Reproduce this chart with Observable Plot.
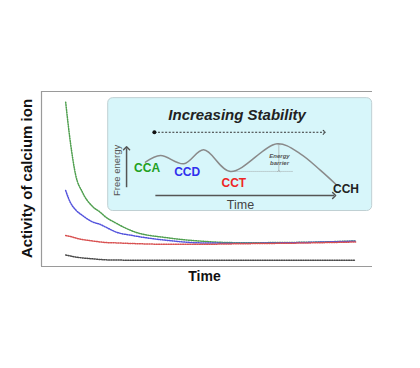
<!DOCTYPE html>
<html>
<head>
<meta charset="utf-8">
<script src="https://cdn.jsdelivr.net/npm/d3@7"></script>
<script src="https://cdn.jsdelivr.net/npm/@observablehq/plot@0.6"></script>
<style>
  html, body { margin: 0; padding: 0; background: #fff; }
  #chart svg { display: block; }
</style>
</head>
<body>
<div id="chart"></div>
<script>
// ---- main curves: activity of calcium ion vs time ----
const time  = [7.3, 8.8, 10.3, 12.4, 15.4, 17.8, 19.3, 22.4, 27.8, 38.1, 48.0, 60.1, 78.3, 94.9];
const cca   = [93.9, 70.0, 52.5, 42.3, 34.3, 30.9, 28.4, 24.9, 20.0, 16.4, 14.5, 13.6, 13.8, 14.6];
const ccd   = [43.4, 36.3, 32.4, 29.1, 25.5, 24.0, 22.6, 19.8, 17.6, 14.9, 13.5, 13.3, 13.7, 14.5];
const cct   = [17.7, 17.1, 16.3, 15.4, 14.6, 14.0, 13.7, 13.5, 13.1, 12.7, 12.7, 13.0, 13.4, 14.0];
const cch   = [6.6, 6.0, 5.4, 4.9, 4.4, 4.0, 3.8, 3.7, 3.6, 3.6, 3.6, 3.6, 3.6, 3.6];
const seriesNames  = ["CCA", "CCD", "CCT", "CCH"];
const seriesValues = [cca, ccd, cct, cch];
const seriesColors = ["#4f9f4f", "#5252dc", "#d85050", "#4a4a4a"];

// ---- inset diagram (same coordinate system) ----
const insetBox   = [{x1: 20.15, x2: 99.9, y1: 31.7, y2: 96.2}];
const energyX    = [31.4, 35.95, 43.0, 49.0, 57.1, 71.2, 78.2, 84.3, 89.3];
const energyY    = [59.6, 63.4, 58.7, 66.7, 54.3, 70.1, 64.4, 54.9, 46.3];
const phaseLabels = ["CCA", "CCD", "CCT", "CCH"];
const phaseX      = [31.9, 44.0, 58.1, 92.0];
const phaseY      = [56.0, 53.9, 47.6, 44.0];
const phaseColors = ["#22a022", "#3030ee", "#ee2626", "#222222"];
const stabilityArrow = [{x1: 34.1, x2: 85.4, y: 76.7}];
const timeArrow      = [{x1: 34.4, x2: 88.4, y: 40.6}];
const energyArrow    = [{x: 25.7, y1: 45.3, y2: 67.6}];
const barrierLine    = [{x1: 58.0, x2: 76.0, y: 54.3}];
const barrierArrow   = [{x: 71.7, y1: 54.6, y2: 69.8}];
const insetTexts = [
  {text: "Increasing Stability", x: 59.1, y: 86.3},
];
const barrierText = [{text: "Energy", x: 71.9, y: 63.0}, {text: "barrier", x: 71.9, y: 59.0}];
const insetTimeText = [{text: "Time", x: 60.1, y: 34.9}];
const freeEnergyText = [{text: "Free energy", x: 22.9, y: 54.9}];

const lineData = seriesNames.flatMap((s, i) =>
  time.map((t, j) => ({series: s, t, v: seriesValues[i][j]})));
const energyData = energyX.map((x, i) => ({x, y: energyY[i]}));
const phaseData = phaseLabels.map((l, i) => ({l, x: phaseX[i], y: phaseY[i], c: phaseColors[i]}));

const font = "Liberation Sans, Arial, Helvetica, sans-serif";

const chart = Plot.plot({
  width: 420,
  height: 368,
  marginLeft: 41,
  marginRight: 48,
  marginTop: 91,
  marginBottom: 102,
  x: {domain: [0, 100], axis: null},
  y: {domain: [0, 100], axis: null},
  color: {domain: seriesNames, range: seriesColors},
  style: {fontFamily: font, background: "#fff"},
  marks: [
    // frame (left, top, bottom)
    Plot.ruleX([0], {stroke: "#9a9a9a", strokeWidth: 1.2}),
    Plot.ruleY([0, 100], {stroke: "#9a9a9a", strokeWidth: 1.2}),
    // dotted decay curves
    Plot.line(lineData, {x: "t", y: "v", z: "series", stroke: "series", strokeWidth: 1.5,
      strokeDasharray: "1.1,1.3", curve: "monotone-x"}),
    // inset box
    Plot.rect(insetBox, {x1: "x1", x2: "x2", y1: "y1", y2: "y2", fill: "#d7f6fa",
      stroke: "#bfd0d3", strokeWidth: 1, rx: 5}),
    Plot.text(insetTexts, {x: "x", y: "y", text: "text", fontSize: 15, fontWeight: "bold",
      fontStyle: "italic", fill: "#222"}),
    Plot.link(stabilityArrow, {x1: "x1", x2: "x2", y1: "y", y2: "y", stroke: "#333",
      strokeWidth: 1, strokeDasharray: "2,1.6", markerEnd: "arrow"}),
    Plot.dot(stabilityArrow, {x: "x1", y: "y", r: 2, fill: "#111"}),
    // free energy axis
    Plot.link(energyArrow, {x1: "x", x2: "x", y1: "y1", y2: "y2", stroke: "#555",
      strokeWidth: 1.5, markerEnd: "arrow"}),
    Plot.text(freeEnergyText, {x: "x", y: "y", text: "text", rotate: -90, fontSize: 9.5, fill: "#555"}),
    // time axis
    Plot.link(timeArrow, {x1: "x1", x2: "x2", y1: "y", y2: "y", stroke: "#555",
      strokeWidth: 1.5, markerEnd: "arrow"}),
    Plot.text(insetTimeText, {x: "x", y: "y", text: "text", fontSize: 12.5, fill: "#444"}),
    // energy barrier
    Plot.link(barrierLine, {x1: "x1", x2: "x2", y1: "y", y2: "y", stroke: "#999",
      strokeWidth: 0.8, strokeDasharray: "1,1"}),
    Plot.link(barrierArrow, {x1: "x", x2: "x", y1: "y1", y2: "y2", stroke: "#999",
      strokeWidth: 0.6, markerStart: "arrow", markerEnd: "arrow"}),
    Plot.text(barrierText, {x: "x", y: "y", text: "text", fontSize: 6, fontWeight: "bold",
      fontStyle: "italic", fill: "#555"}),
    // energy landscape
    Plot.line(energyData, {x: "x", y: "y", stroke: "#8a8a8a", strokeWidth: 1.5, curve: "catmull-rom"}),
    Plot.text(phaseData, {x: "x", y: "y", text: "l", fill: "c", fontSize: 12, fontWeight: "bold"}),
    // axis titles
    Plot.text(["Activity of calcium ion"], {frameAnchor: "left", textAnchor: "middle", rotate: -90,
      dx: -14, dy: -0.5, fontSize: 15, fontWeight: "bold", fill: "#111"}),
    Plot.text(["Time"], {frameAnchor: "bottom", dy: 14, dx: -2.5, fontSize: 14,
      fontWeight: "bold", fill: "#111"})
  ]
});
document.getElementById("chart").append(chart);
</script>
</body>
</html>
